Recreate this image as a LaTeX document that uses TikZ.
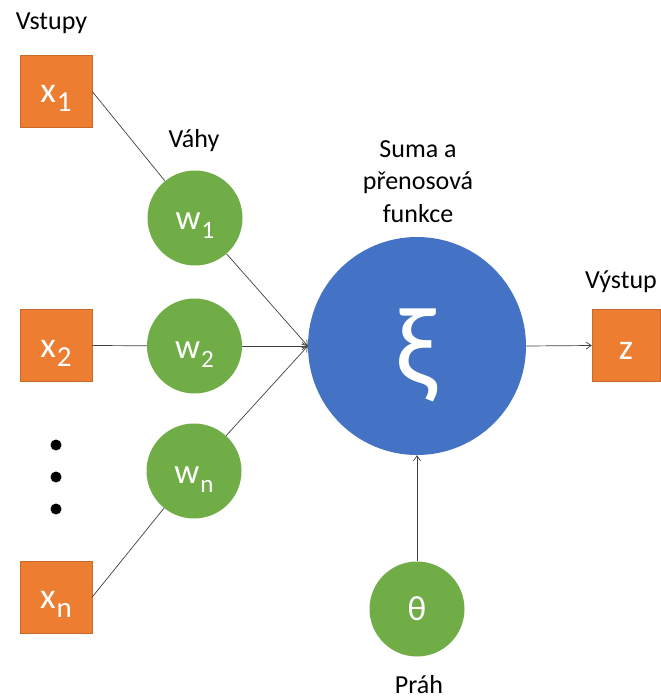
\documentclass[tikz,border=0pt]{standalone}
\usepackage{fontspec}
\setmainfont{Carlito}
\usetikzlibrary{arrows.meta, positioning}

\definecolor{inorange}{HTML}{ED7D31}
\definecolor{wgreen}{HTML}{70AD47}
\definecolor{sumblue}{HTML}{4472C4}

% index set lower and a bit smaller, as in the slide
\newcommand{\lowidx}[2][26]{\kern1pt\raisebox{-9pt}{\fontsize{#1}{#1}\selectfont #2}}

\tikzset{
  inbox/.style={rectangle, fill=inorange, draw=inorange!85!black, line width=0.5pt,
    minimum size=72pt, inner sep=0pt, text=white, font=\fontsize{36}{40}\selectfont,
    text height=23pt, text depth=0pt},
  weight/.style={circle, fill=wgreen, minimum size=95pt, inner sep=0pt,
    text=white, font=\fontsize{35}{40}\selectfont},
  sumnode/.style={circle, fill=sumblue, minimum size=218pt, inner sep=0pt,
    text=white, font=\fontsize{112}{120}\selectfont},
  lbl/.style={inner sep=0pt, font=\fontsize{26}{32.5}\selectfont},
  conn/.style={draw=black!75, line width=0.7pt},
  arr/.style={conn, -{Straight Barb[length=5pt, width=7pt]}}
}

\begin{document}
\begin{tikzpicture}[x=1pt, y=-1pt]
      \useasboundingbox (0,0) rectangle (660,700);

      % inputs
      \node[inbox] (x1) at (56,91.5) {x\lowidx[29]{1}};
      \node[inbox] (x2) at (56,345.5) {x\lowidx[29]{2}};
      \node[inbox] (xn) at (56,597) {x\lowidx[29]{n}};
      \foreach \y in {445,477,509}
        \fill (56,\y) circle (5.5pt);

      % weights
      \node[weight, text height=24pt, text depth=0pt] (w1) at (195,218) {w\lowidx[25]{1}};
      \node[weight, text height=24pt, text depth=0pt] (w2) at (194.5,346) {w\lowidx[25]{2}};
      \node[weight, text height=24pt, text depth=0pt] (wn) at (194,471) {w\lowidx[25]{n}};

      % sum, threshold, output
      \node[sumnode] (sum) at (417,346) {\raisebox{-9pt}[\height][\depth]{ξ}};
      \node[weight] (theta) at (417,609) {θ};
      \node[inbox, minimum width=68pt, text height=27pt] (z) at (626,345.5) {z};

      % labels
      \node[lbl, anchor=base] (lin) at (51.5,30) {Vstupy};
      \node[lbl, anchor=base] (lw) at (194,148) {Váhy};
      \node[lbl, anchor=north, align=center] (lsum) at (418,140) {Suma a\\přenosová\\funkce};
      \node[lbl, anchor=base] (lout) at (621,288) {Výstup};
      \node[lbl, anchor=base] (lth) at (419,693) {Práh};

      % connections
      \draw[conn] (x1.east) -- (w1);
      \draw[conn] (x2.east) -- (w2);
      \draw[conn] (xn.east) -- (wn);
      \draw[arr] (w1) -- (sum.west);
      \draw[arr] (w2) -- (sum.west);
      \draw[arr] (wn) -- (sum.west);
      \draw[arr] (sum.east) -- (z.west);
      \draw[arr] (theta) -- (sum.south);
\end{tikzpicture}
\end{document}
